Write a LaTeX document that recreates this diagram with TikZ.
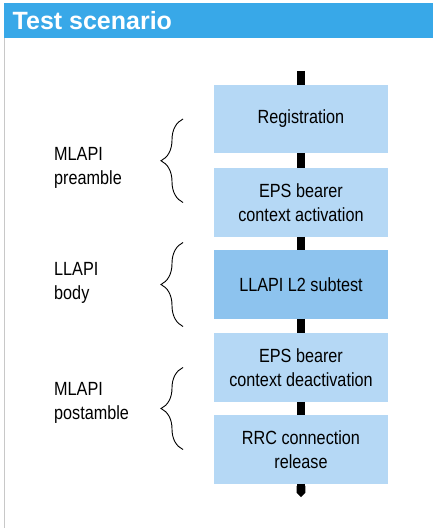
\documentclass[tikz,border=0pt]{standalone}
\usepackage{fontspec}
\setmainfont{Liberation Sans}
\newfontfamily\narrowfont[FakeStretch=0.85]{Liberation Sans}
\usetikzlibrary{positioning, arrows.meta, decorations.pathreplacing}
\definecolor{headblue}{RGB}{56,168,232}
\definecolor{steplight}{RGB}{181,216,245}
\definecolor{stepdark}{RGB}{141,195,238}
\definecolor{framegray}{RGB}{200,200,200}

\begin{document}
\begin{tikzpicture}[
  x=0.035cm, y=-0.035cm,
  every node/.style={font={\narrowfont\fontsize{19}{24.2}\selectfont}},
  phase/.style={fill=steplight, minimum width=6.09cm, minimum height=2.4cm,
                align=center, inner sep=0pt},
  subtest/.style={phase, fill=stepdark},
  lbl/.style={align=left, anchor=west, inner sep=0pt},
  bar/.style={line width=8.9pt, black},
  grp/.style={decorate, decoration={brace, amplitude=0.77cm}, line width=0.9pt}
]
\useasboundingbox (0,0) rectangle (433,528);

%--- Header ---
\fill[headblue] (4,3) rectangle (433,38);
\draw[framegray, line width=1.5pt] (4.5,38) -- (4.5,528);
\node[anchor=base west, inner sep=0pt, text=white,
      font={\bfseries\fontsize{24.9}{30}\selectfont}] (title) at (12.5,30) {Test scenario};

%--- Steps ---
\node[phase] (reg) at (301,119) {Registration};
\node[phase] (epsact) at (301,202.5) {EPS bearer\\context activation};
\node[subtest] (l2test) at (301,284.5) {LLAPI L2 subtest};
\node[phase] (epsdeact) at (301,367.5) {EPS bearer\\context deactivation};
\node[phase] (rrcrel) at (301,449.5) {RRC connection\\release};

%--- Flow bar ---
\coordinate (entry) at (301,71);
\coordinate (exit) at (301,497);
\draw[bar] (entry) -- (reg);
\draw[bar] (reg) -- (epsact);
\draw[bar] (epsact) -- (l2test);
\draw[bar] (l2test) -- (epsdeact);
\draw[bar] (epsdeact) -- (rrcrel);
\draw[bar, -{Triangle Cap}] (rrcrel) -- (exit);

%--- Braces ---
\draw[grp] ([shift={(-118,0)}]epsact.center) -- ([shift={(-118,0)}]reg.center);
\draw[grp] ([shift={(-118,42)}]l2test.center) -- ([shift={(-118,-42)}]l2test.center);
\draw[grp] ([shift={(-118,0)}]rrcrel.center) -- ([shift={(-118,0)}]epsdeact.center);

%--- Labels ---
\node[lbl] (pre) at (54,168) {MLAPI\\preamble};
\node[lbl] (llbody) at (54,283) {LLAPI\\body};
\node[lbl] (post) at (54,403) {MLAPI\\postamble};

\end{tikzpicture}
\end{document}
